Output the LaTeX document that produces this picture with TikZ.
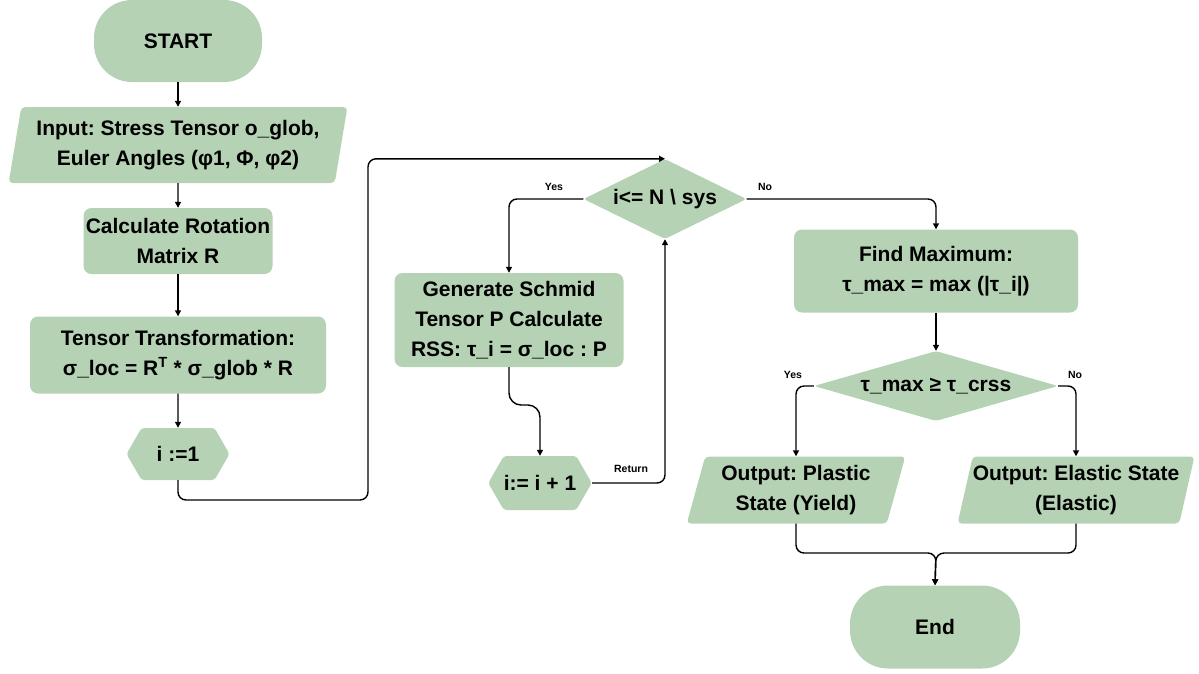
\documentclass[tikz,border=0pt]{standalone}
\usepackage{fontspec}
\setmainfont{Liberation Sans}
\usetikzlibrary{shapes.geometric,shapes.symbols,arrows.meta,calc}
\definecolor{boxgreen}{RGB}{181,210,180}
\frenchspacing
\begin{document}
\begin{tikzpicture}[x=1pt,y=-1pt,
  every node/.style={font=\fontsize{21}{30}\selectfont\bfseries, text=black},
  base/.style={fill=boxgreen, draw=none, align=center, inner sep=0pt},
  procbox/.style={base, rectangle, rounded corners=8pt},
  termbox/.style={base, rectangle, rounded corners=38pt},
  iobox/.style={base, trapezium, trapezium stretches=true, rounded corners=4pt},
  hexbox/.style={base, signal, signal to=east and west, signal pointer angle=120, rounded corners=3pt},
  decbox/.style={base, diamond, rounded corners=3pt},
  arr/.style={draw=black, line width=1.4pt, -{Triangle[length=6pt,width=6pt]}, rounded corners=8pt},
  lbl/.style={font=\fontsize{10.5}{12}\selectfont\bfseries}
]
\useasboundingbox (0,0) rectangle (1199,673);

\node[termbox, minimum width=168pt, minimum height=82pt] (start) at (178,41) {START};
\node[iobox, trapezium left angle=77, trapezium right angle=103, minimum width=339pt, minimum height=76pt] (in) at (178,145) {Input: Stress Tensor o\_glob,\\Euler Angles (φ1, Φ, φ2)};
\node[procbox, minimum width=189pt, minimum height=66pt] (calc) at (178,241) {Calculate Rotation\\Matrix R};
\node[procbox, minimum width=296pt, minimum height=77pt] (tt) at (178,355) {Tensor Transformation:\\σ\_loc = R\textsuperscript{T} * σ\_glob * R};
\node[hexbox, minimum width=103pt, minimum height=52pt] (i1) at (178,454) {i :=1};
\node[decbox, minimum width=163pt, minimum height=80pt, aspect=2] (d1) at (665,199) {i<= N \textbackslash{} sys};
\node[procbox, minimum width=229pt, minimum height=94pt] (sch) at (509,320) {Generate Schmid\\Tensor P Calculate\\RSS: τ\_i = σ\_loc : P};
\node[hexbox, minimum width=93pt, minimum height=54pt] (i2) at (540,483) {i:= i + 1};
\node[procbox, minimum width=284pt, minimum height=83pt] (fm) at (936,271) {Find Maximum:\\τ\_max = max (|τ\_i|)};
\node[decbox, minimum width=244pt, minimum height=70pt, aspect=3.5] (d2) at (936,386) {τ\_max ≥ τ\_crss};
\node[iobox, trapezium left angle=73, trapezium right angle=107, minimum width=219pt, minimum height=67pt] (op) at (796,490) {Output: Plastic\\State (Yield)};
\node[iobox, trapezium left angle=73, trapezium right angle=107, minimum width=236pt, minimum height=67pt] (oe) at (1076,490) {Output: Elastic State\\(Elastic)};
\node[termbox, minimum width=170pt, minimum height=83pt] (en) at (935,627) {End};

\coordinate (c1) at (368,500);
\coordinate (c2) at (509,405);
\coordinate (mg) at (936,553);

\draw[arr] (start) -- (in);
\draw[arr] (in) -- (calc);
\draw[arr] (calc) -- (tt);
\draw[arr] (tt) -- (i1);
\draw[arr] (i1.south) |- (c1) |- (d1.north);
\draw[arr] (d1.west) -| (sch.north);
\draw[arr] (d1.east) -| (fm.north);
\draw[arr, rounded corners=12pt] (sch.south) -- (c2) -| (i2.north);
\draw[arr] (i2.east) -| (d1.south);
\draw[arr] (fm.south) -- (d2.north);
\draw[arr] (d2.west) -| (op.north);
\draw[arr] (d2.east) -| (oe.north);
\draw[arr] (op.south) |- (mg) -- (en.north);
\draw[arr] (oe.south) |- (mg) -- (en.north);

\node[lbl] (ly1) at (554,187) {Yes};
\node[lbl] (ln1) at (765,187) {No};
\node[lbl] (ly2) at (793,375) {Yes};
\node[lbl] (ln2) at (1075,375) {No};
\node[lbl] (lr) at (631,469) {Return};
\end{tikzpicture}
\end{document}
